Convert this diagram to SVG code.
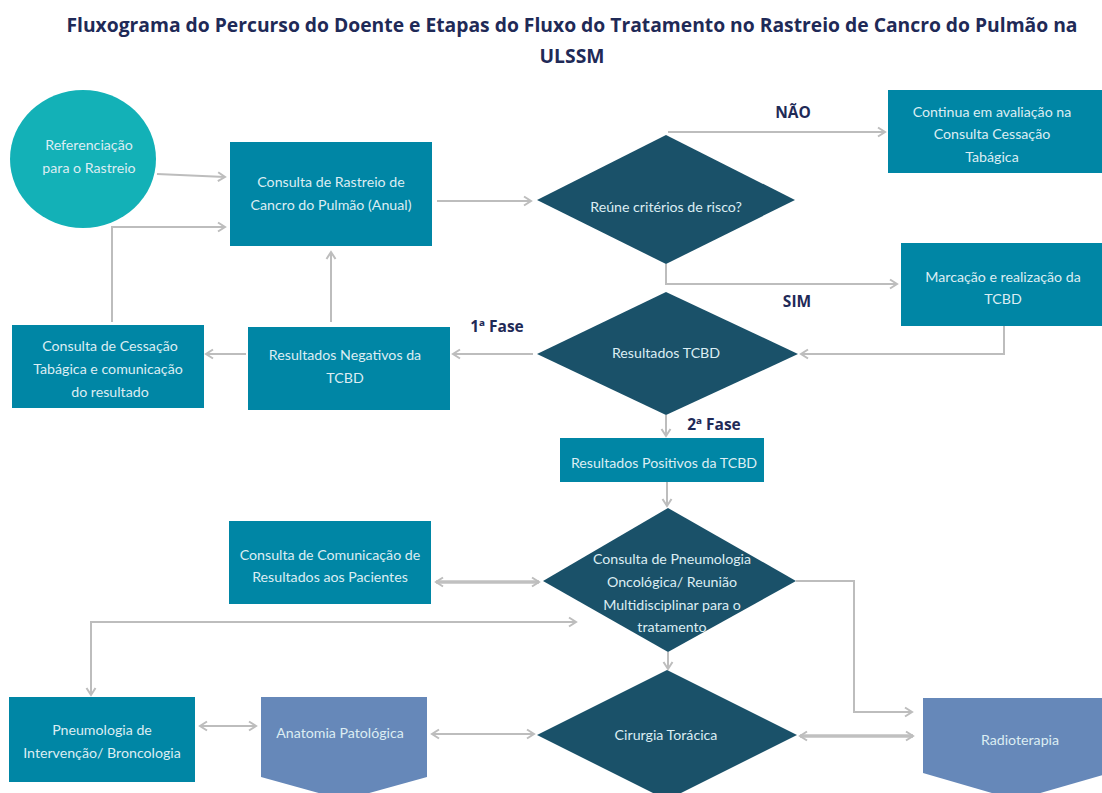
<svg xmlns="http://www.w3.org/2000/svg" width="1102" height="793" viewBox="0 0 1102 793">
<style>
.box{fill:#0086a5}
.dia{fill:#1a5169}
.pent{fill:#6688b9}
.circ{fill:#13b1b7}
.t{fill:#dcedf3;font-family:Lato,"Open Sans","Liberation Sans",sans-serif;font-size:14.2px;text-anchor:middle}
.lbl{fill:#1f2a57;font-family:"Open Sans","Liberation Sans",sans-serif;font-weight:bold;font-size:15.5px}
.title{fill:#1f2a57;font-family:"Open Sans","Liberation Sans",sans-serif;font-weight:bold;font-size:19.3px}
.c{fill:none;stroke:#bdbdbd;stroke-width:2}
.c2{fill:none;stroke:#c0c0c0;stroke-width:3.5}
</style>
<defs>
<marker id="ah" markerUnits="userSpaceOnUse" markerWidth="12" markerHeight="12" refX="9" refY="6" orient="auto-start-reverse">
<path d="M2,1.5 L9,6 L2,10.5" fill="none" stroke="#bdbdbd" stroke-width="2"/>
</marker>
</defs>
<rect width="1102" height="793" fill="#ffffff"/>
<g id="title">
<text class="title" x="572" y="32" text-anchor="middle">Fluxograma do Percurso do Doente e Etapas do Fluxo do Tratamento no Rastreio de Cancro do Pulmão na</text>
<text class="title" x="572" y="63" text-anchor="middle">ULSSM</text>
</g>
<g id="connectors">
<path class="c" d="M157,174 L225,177" marker-end="url(#ah)"/>
<path class="c" d="M112,322 L112,227 L225,227" marker-end="url(#ah)"/>
<path class="c" d="M331,322 L331,252" marker-end="url(#ah)"/>
<path class="c" d="M437,201 L531,201" marker-end="url(#ah)"/>
<path class="c" d="M668,132 L885,132" marker-end="url(#ah)"/>
<path class="c" d="M666,264 L666,284 L897,284" marker-end="url(#ah)"/>
<path class="c" d="M1004,326 L1004,354 L801,354" marker-end="url(#ah)"/>
<path class="c" d="M533,354 L453,354" marker-end="url(#ah)"/>
<path class="c" d="M246,354 L206,354" marker-end="url(#ah)"/>
<path class="c" d="M666,415 L666,436" marker-end="url(#ah)"/>
<path class="c" d="M667,482 L667,506" marker-end="url(#ah)"/>
<path class="c2" d="M436,582 L539,582" marker-start="url(#ah)" marker-end="url(#ah)"/>
<path class="c" d="M796,581 L854,581 L854,712 L912,712" marker-end="url(#ah)"/>
<path class="c" d="M576,622 L91,622 L91,695" marker-start="url(#ah)" marker-end="url(#ah)"/>
<path class="c" d="M668,652 L668,669" marker-end="url(#ah)"/>
<path class="c" d="M200,726 L256,726" marker-start="url(#ah)" marker-end="url(#ah)"/>
<path class="c" d="M432,734 L534,734" marker-start="url(#ah)" marker-end="url(#ah)"/>
<path class="c2" d="M800,736 L913,736" marker-start="url(#ah)" marker-end="url(#ah)"/>
</g>
<g id="lbl-nao"><text class="lbl" x="793" y="118" text-anchor="middle">NÃO</text></g>
<g id="lbl-sim"><text class="lbl" x="797" y="307" text-anchor="middle">SIM</text></g>
<g id="lbl-fase1"><text class="lbl" x="497" y="332" text-anchor="middle">1ª Fase</text></g>
<g id="lbl-fase2"><text class="lbl" x="714" y="430" text-anchor="middle">2ª Fase</text></g>
<g id="n-referenciacao">
<ellipse class="circ" cx="83" cy="159" rx="73" ry="69"/>
<text class="t" x="89" y="150">Referenciação</text>
<text class="t" x="89" y="173">para o Rastreio</text>
</g>
<g id="n-consulta-rastreio">
<rect class="box" x="230" y="142" width="202" height="104"/>
<text class="t" x="331" y="187">Consulta de Rastreio  de</text>
<text class="t" x="331" y="210">Cancro do Pulmão (Anual)</text>
</g>
<g id="n-criterios">
<polygon class="dia" points="537,200 666,135 795,200 666,264"/>
<text class="t" x="666" y="212">Reúne critérios de risco?</text>
</g>
<g id="n-continua">
<rect class="box" x="888" y="90" width="214" height="83"/>
<text class="t" x="992" y="117">Continua em avaliação na</text>
<text class="t" x="992" y="139">Consulta Cessação</text>
<text class="t" x="992" y="162">Tabágica</text>
</g>
<g id="n-marcacao">
<rect class="box" x="901" y="243" width="201" height="83"/>
<text class="t" x="1003" y="282">Marcação e realização da</text>
<text class="t" x="1003" y="304">TCBD</text>
</g>
<g id="n-resultados">
<polygon class="dia" points="537,354 666,292 798,354 666,415"/>
<text class="t" x="666" y="358">Resultados TCBD</text>
</g>
<g id="n-negativos">
<rect class="box" x="248" y="327" width="202" height="83"/>
<text class="t" x="345" y="360">Resultados Negativos da</text>
<text class="t" x="345" y="383">TCBD</text>
</g>
<g id="n-cessacao">
<rect class="box" x="12" y="325" width="192" height="83"/>
<text class="t" x="110" y="351">Consulta de Cessação</text>
<text class="t" x="108" y="374">Tabágica e comunicação</text>
<text class="t" x="110" y="397">do resultado</text>
</g>
<g id="n-positivos">
<rect class="box" x="560" y="438" width="204" height="44"/>
<text class="t" x="664" y="468">Resultados Positivos da TCBD</text>
</g>
<g id="n-comunicacao">
<rect class="box" x="229" y="521" width="202" height="83"/>
<text class="t" x="330" y="560">Consulta de Comunicação de</text>
<text class="t" x="330" y="582">Resultados aos Pacientes</text>
</g>
<g id="n-pneumologia-onc">
<polygon class="dia" points="543,581 668,508 796,581 668,652"/>
<text class="t" x="672" y="564">Consulta de Pneumologia</text>
<text class="t" x="672" y="587">Oncológica/ Reunião</text>
<text class="t" x="672" y="610">Multidisciplinar para o</text>
<text class="t" x="672" y="632">tratamento</text>
</g>
<g id="n-pneumologia-int">
<rect class="box" x="9" y="697" width="186" height="85"/>
<text class="t" x="102" y="735">Pneumologia de</text>
<text class="t" x="102" y="758">Intervenção/ Broncologia</text>
</g>
<g id="n-anatomia">
<polygon class="pent" points="261,697 427,697 427,777 344,800 261,777"/>
<text class="t" x="340" y="738">Anatomia Patológica</text>
</g>
<g id="n-cirurgia">
<polygon class="dia" points="537,735 667,670 797,735 667,800"/>
<text class="t" x="666" y="740">Cirurgia Torácica</text>
</g>
<g id="n-radioterapia">
<polygon class="pent" points="923,698 1110,698 1110,773 1016,800 923,773"/>
<text class="t" x="1020" y="745">Radioterapia</text>
</g>
</svg>
